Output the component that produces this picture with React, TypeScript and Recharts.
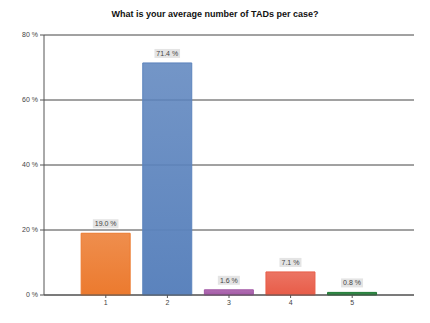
import React from 'react';
import { BarChart, Bar, XAxis, YAxis, CartesianGrid, Cell, LabelList } from 'recharts';

const categories = ['1', '2', '3', '4', '5'];
const percents = [19.0, 71.4, 1.6, 7.1, 0.8];
const barColors = ['#ec7a2e', '#5b83bd', '#a357a6', '#e85c48', '#1c7a33'];
const yTicks = [0, 20, 40, 60, 80];

const data = categories.map((c, i) => ({ name: c, value: percents[i] }));

const ValueLabel = (props: any) => {
  const { x, y, width, value } = props;
  const cx = x + width / 2;
  const text = `${value.toFixed(1)} %`;
  const w = text.length * 3.6 + 4;
  return (
    <g>
      <rect x={cx - w / 2} y={y - 14} width={w} height={9} fill="#e4e4e4" />
      <text x={cx} y={y - 7} textAnchor="middle" fontSize={7} fill="#444" fontFamily="Arial, 'Liberation Sans', sans-serif">
        {text}
      </text>
    </g>
  );
};

const App: React.FC = () => {
  return (
    <div style={{ position: 'absolute', left: 0, top: 0, width: 430, height: 323, background: '#fff', fontFamily: "Arial, 'Liberation Sans', sans-serif" }}>
      <div style={{ position: 'absolute', top: 9, left: 0, width: 430, textAlign: 'center', fontSize: 9, fontWeight: 'bold', color: '#111' }}>
        What is your average number of TADs per case?
      </div>
      <BarChart
        width={430}
        height={323}
        data={data}
        margin={{ top: 35, right: 16, bottom: 0, left: 0 }}
        barCategoryGap="10%"
      >
        <defs>
          {barColors.map((c, i) => (
            <linearGradient key={i} id={`g${i}`} x1="0" y1="0" x2="0" y2="1">
              <stop offset="0%" stopColor={c} stopOpacity={0.85} />
              <stop offset="100%" stopColor={c} stopOpacity={1} />
            </linearGradient>
          ))}
        </defs>
        <CartesianGrid vertical={false} stroke="#444" strokeWidth={1} />
        <XAxis
          dataKey="name"
          height={28}
          padding={{ left: 31, right: 31 }}
          stroke="#555"
          tickLine={{ stroke: '#555' }}
          tickSize={3}
          tick={{ fontSize: 7, fill: '#444' }}
        />
        <YAxis
          width={44}
          domain={[0, 80]}
          ticks={yTicks}
          tickFormatter={(v: number) => `${v} %`}
          stroke="#555"
          tickSize={4}
          tick={{ fontSize: 7, fill: '#444' }}
        />
        <Bar dataKey="value" isAnimationActive={false}>
          {data.map((_, i) => (
            <Cell key={i} fill={`url(#g${i})`} stroke={barColors[i]} />
          ))}
          <LabelList dataKey="value" content={<ValueLabel />} />
        </Bar>
      </BarChart>
    </div>
  );
};

export default App;
